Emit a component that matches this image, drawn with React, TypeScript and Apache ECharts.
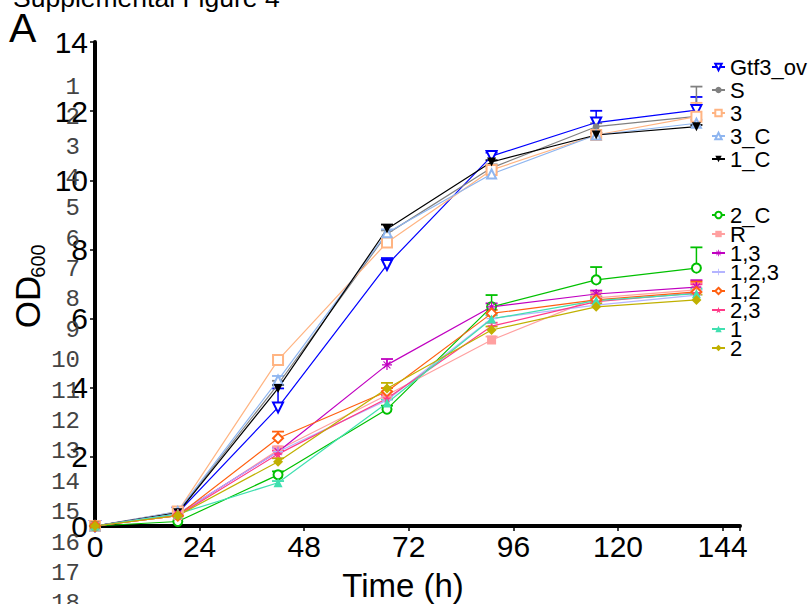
import React, { useEffect, useRef } from "react";
import * as echarts from "echarts";

const times = [0, 19, 42, 67, 91, 115, 138];
const xTicks = [0, 24, 48, 72, 96, 120, 144];

const names = ["Gtf3_ov", "S", "3", "3_C", "1_C", "2_C", "R", "1,3", "1,2,3", "1,2", "2,3", "1", "2"];
const group1 = ["Gtf3_ov", "S", "3", "3_C", "1_C"];
const group2 = ["2_C", "R", "1,3", "1,2,3", "1,2", "2,3", "1", "2"];

const vGtf3 = [0, 0.38, 3.43, 7.55, 10.7, 11.67, 12.03];
const vS = [0, 0.4, 4.1, 8.45, 10.36, 11.55, 11.85];
const v3 = [0, 0.42, 4.8, 8.2, 10.3, 11.31, 11.84];
const v3C = [0, 0.42, 4.22, 8.48, 10.18, 11.31, 11.65];
const v1C = [0, 0.38, 3.98, 8.59, 10.53, 11.31, 11.55];
const v2C = [0, 0.13, 1.48, 3.38, 6.34, 7.12, 7.46];
const vR = [0, 0.3, 2.2, 3.79, 5.38, 6.6, 6.83];
const v13 = [0, 0.35, 2.15, 4.66, 6.34, 6.71, 6.91];
const v123 = [0, 0.35, 2.15, 3.64, 6.0, 6.39, 6.68];
const v12 = [0, 0.3, 2.54, 3.89, 6.15, 6.54, 6.77];
const v23 = [0, 0.3, 2.08, 3.69, 5.78, 6.49, 6.74];
const v1 = [0, 0.35, 1.25, 3.56, 5.99, 6.52, 6.72];
const v2 = [0, 0.3, 1.86, 3.98, 5.67, 6.34, 6.54];

const eGtf3 = [0, 0, 0.55, 0.2, 0.1, 0.34, 0.38];
const eS = [0, 0, 0.1, 0.1, 0.1, 0.1, 0.86];
const e3 = [0, 0, 0.1, 0.1, 0.05, 0.05, 0.4];
const e3C = [0, 0, 0.12, 0.1, 0.05, 0.05, 0.1];
const e1C = [0, 0, 0.1, 0.13, 0.05, 0.05, 0.05];
const e2C = [0, 0, 0.1, 0.1, 0.34, 0.37, 0.6];
const eR = [0, 0, 0.1, 0.1, 0.1, 0.15, 0.2];
const e13 = [0, 0, 0.1, 0.17, 0.1, 0.1, 0.2];
const e123 = [0, 0, 0.1, 0.1, 0.1, 0.1, 0.15];
const e12 = [0, 0, 0.19, 0.1, 0.1, 0.1, 0.3];
const e23 = [0, 0, 0.1, 0.1, 0.1, 0.1, 0.25];
const e1 = [0, 0, 0.05, 0.1, 0.1, 0.1, 0.15];
const e2 = [0, 0, 0.1, 0.16, 0.1, 0.1, 0.15];

const values = [vGtf3, vS, v3, v3C, v1C, v2C, vR, v13, v123, v12, v23, v1, v2];
const errors = [eGtf3, eS, e3, e3C, e1C, e2C, eR, e13, e123, e12, e23, e1, e2];

const colors = ["#0000ff", "#808080", "#ffb482", "#8fb6f0", "#000000", "#00c000", "#ffa0a0", "#c000c0", "#b4b4ff", "#ff6010", "#ff3a88", "#40e0b0", "#c0b000"];

const STAR = "path://M50,0 L61,35 L98,35 L68,57 L79,91 L50,70 L21,91 L32,57 L2,35 L39,35 Z";
const PLUS = "path://M44,0H56V44H100V56H56V100H44V56H0V44H44Z";
const ASTER = "path://M44,0H56V100H44Z M0,44H100V56H0Z M12,19L19,12L88,81L81,88Z M81,12L88,19L19,88L12,81Z";

const symbols = ["emptyTriangle", "circle", "emptyRect", "emptyTriangle", "triangle", "emptyCircle", "rect", ASTER, PLUS, "emptyDiamond", STAR, "triangle", "diamond"];
const rotations = [180, 0, 0, 0, 180, 0, 0, 0, 0, 0, 0, 0, 0];
const sizes = [10, 7, 10, 9, 9, 9, 9, 10, 10, 10, 9, 9, 10];

const gutter = Array.from({ length: 18 }, (_, i) => String(i + 1));

export default function App() {
  const ref = useRef<HTMLDivElement>(null);
  useEffect(() => {
    if (!ref.current) return;
    const chart = echarts.init(ref.current, null, { renderer: "svg" });
    const font = "Liberation Sans, Arial, sans-serif";

    const lineSeries = names.map((n, i) => ({
      name: n,
      type: "line",
      data: times.map((t, j) => [t, values[i][j]]),
      symbol: symbols[i],
      symbolRotate: rotations[i],
      symbolSize: sizes[i],
      showAllSymbol: true,
      lineStyle: { color: colors[i], width: 1.2 },
      itemStyle: { color: colors[i], borderWidth: 1.2 },
      z: 3,
    }));

    const errSeries = names.map((n, i) => ({
      type: "custom",
      name: n + "_err",
      data: times
        .map((t, j) => [t, values[i][j], errors[i][j]])
        .filter((d) => d[2] > 0),
      z: 2,
      renderItem: (params: any, api: any) => {
        const x = api.value(0);
        const y = api.value(1);
        const e = api.value(2);
        const p0 = api.coord([x, y]);
        const p1 = api.coord([x, y + e]);
        return {
          type: "group",
          children: [
            { type: "line", shape: { x1: p0[0], y1: p0[1], x2: p1[0], y2: p1[1] }, style: { stroke: colors[i], lineWidth: 1.5 } },
            { type: "line", shape: { x1: p1[0] - 6, y1: p1[1], x2: p1[0] + 6, y2: p1[1] }, style: { stroke: colors[i], lineWidth: 1.8 } },
          ],
        };
      },
    }));

    const gutterTexts = gutter.map((g, i) => ({
      type: "text",
      x: 80,
      y: 87 + i * 30.4,
      z: 100,
      style: {
        text: g,
        fontFamily: "Liberation Mono, monospace",
        fontSize: 24,
        fill: "#444",
        align: "right",
        verticalAlign: "middle",
      },
    }));

    const legendCommon = {
      orient: "vertical",
      left: 711,
      padding: 0,
      itemWidth: 13,
      itemHeight: 8,
      selectedMode: false,
      textStyle: { fontSize: 22, color: "#000", fontFamily: font },
    };

    chart.setOption({
      animation: false,
      backgroundColor: "#fff",
      grid: { left: 95, right: 71, top: 42, bottom: 78, containLabel: false },
      legend: [
        { ...legendCommon, top: 56, itemGap: 1, data: group1 },
        { ...legendCommon, top: 204, itemGap: -3, data: group2 },
      ],
      xAxis: {
        type: "value",
        min: 0,
        max: 148,
        interval: 24,
        splitLine: { show: false },
        axisLine: { lineStyle: { color: "#000", width: 4 } },
        axisTick: { show: true, length: 5, lineStyle: { color: "#000", width: 1.5 } },
        axisLabel: {
          fontSize: 30,
          color: "#000",
          fontFamily: font,
          margin: 5,
          formatter: (v: number) => (xTicks.indexOf(v) >= 0 ? String(v) : ""),
        },
      },
      yAxis: {
        type: "value",
        min: 0,
        max: 14,
        interval: 2,
        splitLine: { show: false },
        axisLine: { show: true, lineStyle: { color: "#000", width: 4 } },
        axisTick: { show: true, length: 5, lineStyle: { color: "#000", width: 1.5 } },
        axisLabel: { fontSize: 30, color: "#000", fontFamily: font, margin: 7 },
      },
      graphic: [
        {
          type: "text",
          x: 13,
          y: -2,
          style: { text: "Supplemental Figure 4", fontSize: 26.5, fontFamily: font, fill: "#000", verticalAlign: "middle" },
        },
        {
          type: "text",
          x: 9,
          y: 28,
          style: { text: "A", fontSize: 41, fontFamily: font, fill: "#000", verticalAlign: "middle" },
        },
        {
          type: "text",
          x: 403,
          y: 585,
          style: { text: "Time (h)", fontSize: 33, fontFamily: font, fill: "#000", align: "center", verticalAlign: "middle" },
        },
        {
          type: "text",
          x: 27,
          y: 302,
          rotation: Math.PI / 2,
          style: { text: "OD", fontSize: 35, fontFamily: font, fill: "#000", align: "center", verticalAlign: "middle" },
        },
        {
          type: "text",
          x: 38,
          y: 261,
          rotation: Math.PI / 2,
          style: { text: "600", fontSize: 20, fontFamily: font, fill: "#000", align: "center", verticalAlign: "middle" },
        },
        ...gutterTexts,
      ],
      series: [...errSeries, ...lineSeries],
    });
    return () => chart.dispose();
  }, []);
  return <div ref={ref} style={{ position: "absolute", left: 0, top: 0, width: 811, height: 604 }} />;
}
